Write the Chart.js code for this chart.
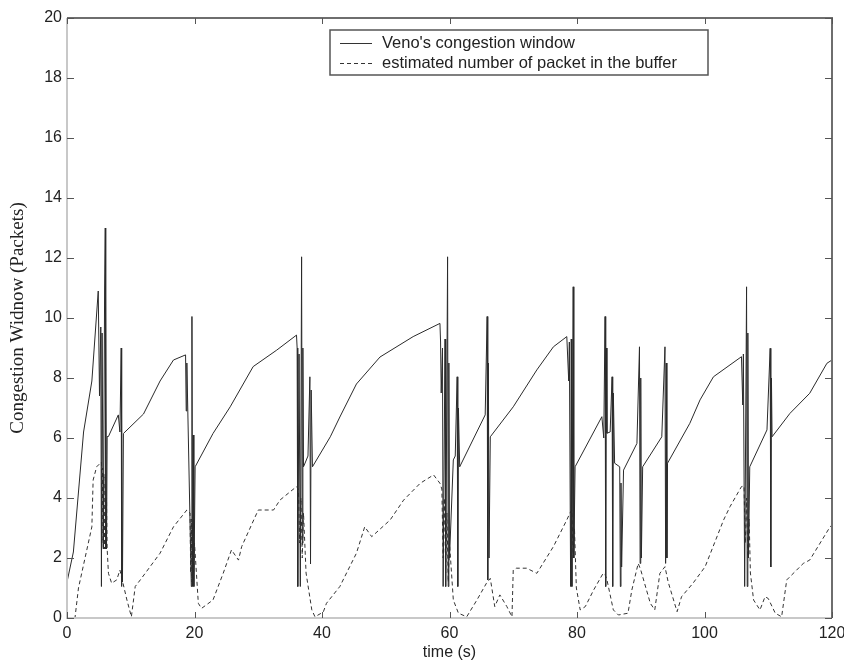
<!DOCTYPE html>
<html>
<head>
<meta charset="utf-8">
<script src="https://cdn.jsdelivr.net/npm/chart.js@4/dist/chart.umd.min.js"></script>
<style>
  html, body { margin: 0; padding: 0; background: #fff; }
</style>
</head>
<body>
<canvas id="venoGraph" width="844" height="665"></canvas>
<script>
// Veno's congestion window (solid)
const cwndTime = [0, 1, 2.6, 3.9, 4.9, 5.1, 5.3, 5.4, 5.5, 5.7, 5.9, 6.0, 6.05, 6.1, 6.2, 6.3, 6.5, 8.05, 8.3, 8.5,
  8.55, 8.6, 8.7, 8.85, 12, 14.6, 16.7, 18.6, 18.7, 18.8, 19.5, 19.6, 19.7, 19.8, 19.9, 20.1, 22.9, 25.6, 29.2, 32.9,
  36.0, 36.1, 36.2, 36.4, 36.6, 36.8, 36.9, 37.0, 37.1, 37.8, 38.1, 38.2, 38.3, 38.5, 41.3, 42.8, 45.4, 49.1, 54.3, 58.5,
  58.6, 58.7, 58.9, 59.0, 59.3, 59.4, 59.7, 59.8, 59.9, 60.0, 60.6, 60.9, 61.2, 61.3, 61.4, 61.6, 65.6, 65.9, 66.0, 66.1,
  66.2, 66.4, 70, 73.7, 76.3, 78.4, 78.7, 78.8, 79.0, 79.1, 79.2, 79.4, 79.5, 79.7, 83.9, 84.2, 84.4, 84.5, 84.6, 84.7,
  85.2, 85.5, 85.6, 85.7, 85.9, 86.7, 86.8, 86.9, 87.0, 87.3, 89.4, 89.8, 89.9, 90.0, 90.1, 90.3, 93.3, 93.8, 93.9, 94.0,
  94.1, 94.2, 97.7, 99.3, 101.4, 105.8, 106.0, 106.1, 106.3, 106.6, 106.7, 106.8, 106.9, 107.1, 109.8, 110.3, 110.4, 110.5, 110.6, 113.4,
  116.5, 119.2, 120];
const cwndValue = [1.2, 2.2, 6.2, 7.9, 10.9, 7.4, 9.7, 1.05, 9.5, 2.3, 11, 13.0, 2.3, 10.8, 2.3, 6.05, 6.05, 6.77, 6.2, 9.0,
  1.05, 6.8, 1.2, 6.15, 6.8, 7.9, 8.6, 8.77, 6.9, 8.5, 1.05, 10.05, 1.05, 6.1, 1.05, 5.04, 6.15, 7.04, 8.38, 8.93,
  9.43, 9.0, 1.05, 8.8, 1.05, 12.04, 2.5, 9.0, 5.04, 5.4, 8.04, 1.8, 7.6, 5.04, 6.04, 6.7, 7.8, 8.7, 9.38, 9.82,
  9.2, 7.5, 9.0, 1.05, 9.3, 1.05, 12.04, 1.05, 8.5, 2.0, 5.27, 5.4, 8.04, 1.05, 7.0, 5.04, 6.77, 10.05, 1.27, 8.5,
  2.0, 6.04, 7.04, 8.27, 9.04, 9.38, 7.9, 9.2, 1.05, 9.3, 1.05, 11.04, 2.0, 5.04, 6.71, 6.0, 10.05, 1.05, 9.0, 6.16,
  6.2, 8.04, 1.05, 7.5, 5.16, 5.04, 1.05, 4.5, 1.7, 4.93, 5.82, 9.04, 1.82, 8.0, 2.0, 5.04, 6.04, 9.04, 1.82, 8.5,
  2.0, 5.16, 6.49, 7.27, 8.04, 8.71, 7.1, 8.8, 1.05, 11.04, 1.05, 9.5, 2.0, 5.04, 6.27, 8.99, 1.7, 8.0, 6.04, 6.82,
  7.49, 8.49, 8.6];

// estimated number of packets in the buffer (dashed)
const bufferTime = [0, 1.25, 1.8, 3.9, 4.1, 4.65, 5.4, 5.5, 5.6, 5.7, 5.8, 5.9, 6.0, 6.1, 6.2, 6.3, 6.5, 7.0, 7.8, 8.3,
  9.4, 10.1, 10.7, 11.5, 14.6, 16.7, 18.8, 19.3, 19.4, 19.5, 19.6, 19.7, 19.8, 20.0, 20.6, 21.1, 22.9, 24.5, 25.8, 26.9,
  27.4, 30.0, 32.4, 33.4, 36.0, 36.3, 36.5, 36.7, 36.9, 37.1, 37.5, 38.4, 38.9, 40.2, 40.7, 42.8, 45.4, 46.7, 47.8, 50.7,
  52.8, 55.4, 57.5, 58.5, 58.8, 59.0, 59.2, 59.4, 59.6, 59.8, 60.0, 60.6, 61.4, 62.7, 64.3, 65.8, 66.4, 67.1, 67.9, 69.0,
  69.8, 70.0, 70.5, 72.1, 73.7, 76.3, 78.4, 78.9, 79.2, 79.4, 79.6, 79.9, 80.5, 81.3, 82.6, 84.1, 84.4, 84.7, 85.7, 86.5,
  88.0, 88.6, 89.6, 90.0, 91.5, 92.2, 93.0, 93.8, 94.3, 95.7, 96.4, 98.2, 100.1, 103.0, 104.0, 105.8, 106.2, 106.4, 106.6, 106.8,
  107.0, 107.2, 107.7, 108.7, 109.5, 110.0, 111.1, 112.1, 112.9, 115.5, 116.5, 119.7, 120];
const bufferValue = [0, 0, 1.0, 3.04, 4.6, 5.04, 5.2, 2.5, 5.0, 2.3, 4.8, 2.3, 4.5, 2.3, 4.0, 2.3, 1.49, 1.16, 1.27, 1.6,
  0.6, 0.04, 1.05, 1.27, 2.16, 3.04, 3.6, 3.5, 1.5, 3.3, 1.2, 3.0, 1.2, 2.5, 0.49, 0.32, 0.6, 1.49, 2.27, 1.93,
  2.38, 3.6, 3.6, 3.93, 4.38, 4.3, 2.5, 4.0, 2.0, 3.5, 1.5, 0.27, 0.04, 0.2, 0.49, 1.05, 2.16, 3.04, 2.71, 3.27,
  3.93, 4.49, 4.77, 4.49, 4.3, 2.0, 4.0, 1.5, 3.5, 1.2, 2.5, 0.6, 0.16, 0.04, 0.6, 1.16, 1.32, 0.38, 0.77, 0.38,
  0.04, 1.6, 1.66, 1.66, 1.49, 2.38, 3.27, 3.5, 3.6, 2.0, 3.0, 1.0, 0.27, 0.38, 0.93, 1.49, 1.45, 1.27, 0.27, 0.1,
  0.16, 0.93, 1.82, 1.6, 0.49, 0.27, 1.49, 1.71, 1.2, 0.21, 0.71, 1.16, 1.71, 3.27, 3.71, 4.38, 4.4, 2.5, 4.0, 2.0,
  3.3, 1.5, 0.6, 0.27, 0.71, 0.65, 0.16, 0.04, 1.27, 1.82, 1.93, 3.04, 3.1];

const seriesLabels = ["Veno's congestion window", "estimated number of packet in the buffer"];

const toPoints = (xs, ys) => xs.map((x, i) => ({ x: x, y: ys[i] }));

// matlab style box with inward ticks
const boxFrame = {
  id: "boxFrame",
  afterDatasetsDraw(chart) {
    const { ctx, chartArea: a, scales } = chart;
    ctx.save();
    ctx.lineWidth = 2;
    ctx.strokeStyle = "#c8c8c8";
    ctx.beginPath();
    ctx.moveTo(a.left, a.top);
    ctx.lineTo(a.left, a.bottom);
    ctx.lineTo(a.right, a.bottom);
    ctx.stroke();
    ctx.strokeStyle = "#6e6e6e";
    ctx.beginPath();
    ctx.moveTo(a.left, a.top);
    ctx.lineTo(a.right, a.top);
    ctx.lineTo(a.right, a.bottom);
    ctx.stroke();

    ctx.lineWidth = 1;
    ctx.strokeStyle = "#555";
    ctx.beginPath();
    scales.x.ticks.forEach((t) => {
      const px = Math.round(scales.x.getPixelForValue(t.value)) + 0.5;
      ctx.moveTo(px, a.bottom);
      ctx.lineTo(px, a.bottom - 6);
      ctx.moveTo(px, a.top);
      ctx.lineTo(px, a.top + 6);
    });
    scales.y.ticks.forEach((t) => {
      const py = Math.round(scales.y.getPixelForValue(t.value)) + 0.5;
      ctx.moveTo(a.left, py);
      ctx.lineTo(a.left + 7, py);
      ctx.moveTo(a.right, py);
      ctx.lineTo(a.right - 7, py);
    });
    ctx.stroke();
    ctx.restore();
  },
};

const legendBox = {
  id: "legendBox",
  afterDraw(chart) {
    const ctx = chart.ctx;
    const left = 330, top = 30, w = 378, h = 45;
    ctx.save();
    ctx.fillStyle = "#fff";
    ctx.fillRect(left, top, w, h);
    ctx.lineWidth = 1.5;
    ctx.strokeStyle = "#555";
    ctx.strokeRect(left, top, w, h);
    ctx.font = "16.5px 'Liberation Sans', Arial, sans-serif";
    ctx.fillStyle = "#222";
    ctx.textBaseline = "middle";
    ctx.lineWidth = 1;
    ctx.strokeStyle = "#333";
    seriesLabels.forEach((label, i) => {
      const y = top + 13 + i * 20;
      ctx.setLineDash(i === 0 ? [] : [4, 3]);
      ctx.beginPath();
      ctx.moveTo(340, y + 0.5);
      ctx.lineTo(372, y + 0.5);
      ctx.stroke();
      ctx.fillText(label, 382, y);
    });
    ctx.restore();
  },
};

const canvas = document.querySelector("#venoGraph");
const venoChart = new Chart(canvas, {
  type: "line",
  data: {
    datasets: [
      {
        label: seriesLabels[0],
        data: toPoints(cwndTime, cwndValue),
        borderColor: "#2a2a2a",
        borderWidth: 1,
        pointRadius: 0,
        tension: 0,
      },
      {
        label: seriesLabels[1],
        data: toPoints(bufferTime, bufferValue),
        borderColor: "#333",
        borderWidth: 1,
        borderDash: [4, 3],
        pointRadius: 0,
        tension: 0,
      },
    ],
  },
  options: {
    responsive: false,
    animation: false,
    devicePixelRatio: 1,
    layout: { padding: { left: 0, right: 12, top: 18, bottom: 0 } },
    scales: {
      x: {
        type: "linear",
        min: 0,
        max: 120,
        grid: { display: false, drawTicks: false },
        border: { display: false },
        ticks: {
          stepSize: 20,
          padding: 6,
          color: "#222",
          maxRotation: 0,
          font: { family: "'Liberation Sans', Arial, sans-serif", size: 16 },
        },
        title: {
          display: true,
          text: "time (s)",
          color: "#222",
          padding: { top: 0, bottom: 3 },
          font: { family: "'Liberation Sans', Arial, sans-serif", size: 16 },
        },
        afterFit: (scale) => {
          scale.height = 47;
          scale.paddingLeft = 0;
          scale.paddingRight = 0;
        },
      },
      y: {
        min: 0,
        max: 20,
        grid: { display: false, drawTicks: false },
        border: { display: false },
        ticks: {
          stepSize: 2,
          padding: 5,
          color: "#222",
          font: { family: "'Liberation Sans', Arial, sans-serif", size: 16 },
        },
        title: {
          display: true,
          text: "Congestion Widnow (Packets)",
          color: "#222",
          padding: { top: 7, bottom: 0 },
          font: { family: "'Liberation Serif', 'Times New Roman', serif", size: 19 },
        },
        afterFit: (scale) => {
          scale.width = 67;
          scale.paddingTop = 0;
          scale.paddingBottom = 0;
        },
      },
    },
    plugins: {
      legend: { display: false },
      tooltip: { enabled: false },
    },
  },
  plugins: [boxFrame, legendBox],
});
</script>
</body>
</html>
